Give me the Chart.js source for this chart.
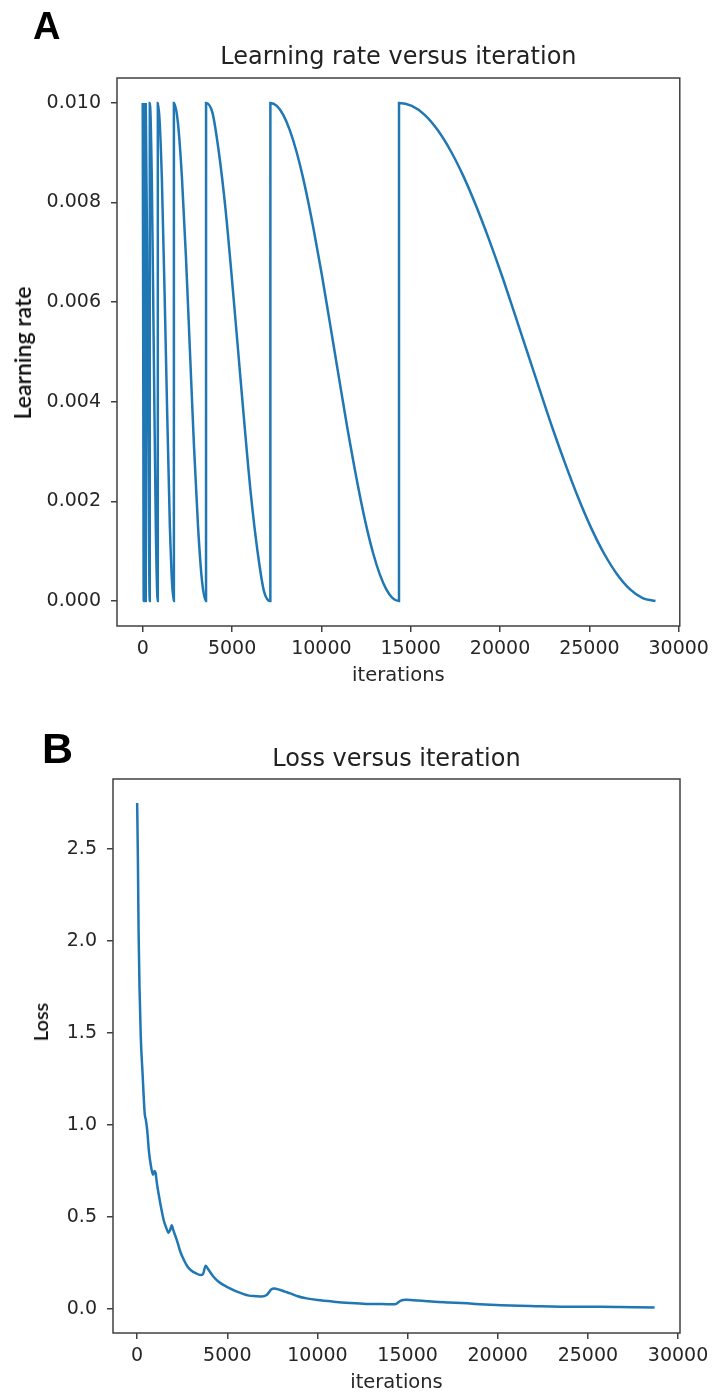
<!DOCTYPE html>
<html>
<head>
<meta charset="utf-8">
<script src="https://cdn.jsdelivr.net/npm/chart.js@4.4.1/dist/chart.umd.min.js"></script>
<style>
    body { margin: 0; background: #fff; width: 715px; height: 1395px; position: relative; overflow: hidden; }
    canvas { position: absolute; left: 0; }
    #chartLr { top: 0; }
    #chartLoss { top: 690px; }
    .panel { position: absolute; font-family: 'Liberation Sans', Arial, sans-serif; font-weight: bold; line-height: 1; color: #000; }
    .ylabel { position: absolute; font-family: Lato, 'Open Sans', sans-serif; font-weight: 600; color: #111;
              transform: translate(-50%, -50%) rotate(-90deg); white-space: nowrap; }
</style>
</head>
<body>
<canvas id="chartLr" width="715" height="690"></canvas>
<canvas id="chartLoss" width="715" height="705"></canvas>
<div class="panel" style="left:33px; top:7px; font-size:38px;">A</div>
<div class="panel" style="left:42px; top:727px; font-size:43px;">B</div>
<div class="ylabel" style="left:22px; top:353px; font-size:23px;">Learning rate</div>
<div class="ylabel" style="left:40px; top:1022px; font-size:20px;">Loss</div>
<script>
// learning rate schedule (warm restarts)
const lrIter = [
    0, 28, 56,
    57, 113, 169,
    170, 282, 394,
    395, 507, 619, 732, 844,
    845, 1070, 1295, 1519, 1744,
    1745, 1970, 2195, 2420, 2645, 2870, 3095, 3320, 3544,
    3545, 3905, 4265, 4625, 4985, 5345, 5705, 6065, 6425, 6785, 7144,
    7145, 7505, 7865, 8225, 8585, 8945, 9305, 9665, 10025, 10385, 10745,
    11105, 11465, 11825, 12185, 12545, 12905, 13265, 13625, 13985, 14344,
    14345, 15063, 15780, 16498, 17216, 17934, 18651, 19369, 20087, 20805, 21522,
    22240, 22958, 23676, 24393, 25111, 25829, 26547, 27264, 27982, 28700
];
const lrValue = [
    0.0100, 0.0050, 0.0000,
    0.0100, 0.0050, 0.0000,
    0.0100, 0.0050, 0.0000,
    0.0100, 0.0085, 0.0050, 0.0015, 0.0000,
    0.0100, 0.0085, 0.0050, 0.0015, 0.0000,
    0.0100, 0.0096, 0.0085, 0.0069, 0.0050, 0.0031, 0.0015, 0.0004, 0.0000,
    0.0100, 0.0098, 0.0090, 0.0079, 0.0065, 0.0050, 0.0035, 0.0021, 0.0010, 0.0002, 0.0000,
    0.01, 0.00994, 0.00976, 0.00946, 0.00905, 0.00854, 0.00794, 0.00727, 0.00655, 0.00578, 0.005,
    0.00422, 0.00345, 0.00273, 0.00206, 0.00146, 0.00095, 0.00054, 0.00024, 0.00006, 0.0,
    0.01, 0.00994, 0.00976, 0.00946, 0.00905, 0.00854, 0.00794, 0.00727, 0.00655, 0.00578, 0.005,
    0.00422, 0.00345, 0.00273, 0.00206, 0.00146, 0.00095, 0.00054, 0.00024, 0.00006, 0.0
];

// training loss
const lossIter = [
    0, 40, 80, 130, 200, 300, 420, 480, 560, 650, 760, 880, 960, 1020, 1100, 1200,
    1350, 1480, 1620, 1740, 1830, 1920, 2000, 2200, 2400, 2600, 2800, 3000, 3250, 3500,
    3650, 3800, 3950, 4200, 4500, 4800, 5100, 5400, 5800, 6200, 6600, 6900, 7200, 7450,
    7600, 7900, 8200, 8500, 8900, 9400, 10000, 10900, 11800, 12700, 13600, 14300, 14600,
    14900, 15300, 15800, 16500, 17300, 18300, 19300, 20200, 21200, 22100, 23000, 23900,
    24800, 25700, 26600, 27600, 28700
];
const lossValue = [
    2.75, 2.45, 2.05, 1.75, 1.48, 1.28, 1.06, 1.03, 0.97, 0.86, 0.78, 0.73, 0.75, 0.74, 0.68, 0.62,
    0.54, 0.48, 0.44, 0.415, 0.43, 0.455, 0.43, 0.375, 0.31, 0.265, 0.23, 0.21, 0.195, 0.185,
    0.19, 0.235, 0.215, 0.18, 0.15, 0.13, 0.115, 0.10, 0.085, 0.073, 0.07, 0.068, 0.078, 0.108,
    0.112, 0.105, 0.095, 0.085, 0.07, 0.058, 0.049, 0.04, 0.033, 0.028, 0.027, 0.026, 0.045,
    0.05, 0.048, 0.045, 0.04, 0.036, 0.031, 0.025, 0.021, 0.018, 0.016, 0.014, 0.013,
    0.013, 0.012, 0.011, 0.010, 0.009
];

const iterTicks = [0, 5000, 10000, 15000, 20000, 25000, 30000];
const lrTicks = [0, 0.002, 0.004, 0.006, 0.008, 0.010];
const lossTicks = [0, 0.5, 1.0, 1.5, 2.0, 2.5];

const lineColor = '#1f77b4';
const axisColor = '#404040';
const textColor = '#262626';
const fontFamily = "'DejaVu Sans', sans-serif";

// matplotlib style box around the plot area
const frame = {
    id: 'frame',
    afterDatasetsDraw(chart) {
        const { ctx, chartArea: a } = chart;
        ctx.save();
        ctx.strokeStyle = axisColor;
        ctx.lineWidth = 1.5;
        ctx.strokeRect(a.left, a.top, a.right - a.left, a.bottom - a.top);
        ctx.restore();
    }
};

function toPoints(xs, ys) {
    return xs.map((x, i) => ({ x: x, y: ys[i] }));
}

function buildChart(id, cfg) {
    const tickGrid = {
        display: true,
        drawOnChartArea: false,
        drawTicks: true,
        tickLength: 6,
        color: axisColor,
        lineWidth: 1.5
    };

    return new Chart(document.getElementById(id), {
        type: 'line',
        data: {
            datasets: [{
                data: toPoints(cfg.xs, cfg.ys),
                borderColor: lineColor,
                borderWidth: 2.5,
                pointRadius: 0,
                fill: false,
                cubicInterpolationMode: 'monotone'
            }]
        },
        options: {
            responsive: false,
            animation: false,
            layout: { padding: { left: 0, right: 35, top: 0, bottom: 0 } },
            plugins: {
                legend: { display: false },
                tooltip: { enabled: false },
                title: {
                    display: true,
                    fullSize: false,
                    text: cfg.title,
                    color: '#222',
                    font: { family: fontFamily, size: 24, weight: 'normal' },
                    padding: { top: cfg.titleTop, bottom: cfg.titleBottom }
                }
            },
            scales: {
                x: {
                    type: 'linear',
                    min: cfg.xMin,
                    max: cfg.xMax,
                    afterBuildTicks: s => { s.ticks = iterTicks.map(v => ({ value: v })); },
                    afterFit: s => { s.height = cfg.xHeight; },
                    ticks: {
                        color: textColor,
                        font: { family: fontFamily, size: 19 },
                        padding: 6,
                        maxRotation: 0,
                        autoSkip: false,
                        callback: v => String(v)
                    },
                    grid: tickGrid,
                    border: { display: false },
                    title: {
                        display: true,
                        text: 'iterations',
                        color: textColor,
                        font: { family: fontFamily, size: 19.5 },
                        padding: { top: 0, bottom: cfg.xTitleBottom }
                    }
                },
                y: {
                    type: 'linear',
                    min: cfg.yMin,
                    max: cfg.yMax,
                    afterBuildTicks: s => { s.ticks = cfg.yTicks.map(v => ({ value: v })); },
                    afterFit: s => { s.width = cfg.yWidth; },
                    ticks: {
                        color: textColor,
                        font: { family: fontFamily, size: 19 },
                        padding: 10,
                        autoSkip: false,
                        callback: v => v.toFixed(cfg.decimals)
                    },
                    grid: tickGrid,
                    border: { display: false }
                }
            }
        },
        plugins: [frame]
    });
}

buildChart('chartLr', {
    xs: lrIter, ys: lrValue,
    title: 'Learning rate versus iteration',
    titleTop: 43, titleBottom: 6.2,
    xMin: -1440, xMax: 30060, xHeight: 64, xTitleBottom: 2.6,
    yMin: -0.0005, yMax: 0.0105, yTicks: lrTicks, yWidth: 117, decimals: 3
});

buildChart('chartLoss', {
    xs: lossIter, ys: lossValue,
    title: 'Loss versus iteration',
    titleTop: 55.6, titleBottom: 4.6,
    xMin: -1340, xMax: 30110, xHeight: 62, xTitleBottom: 0.6,
    yMin: -0.13, yMax: 2.88, yTicks: lossTicks, yWidth: 113, decimals: 1
});
</script>
</body>
</html>
